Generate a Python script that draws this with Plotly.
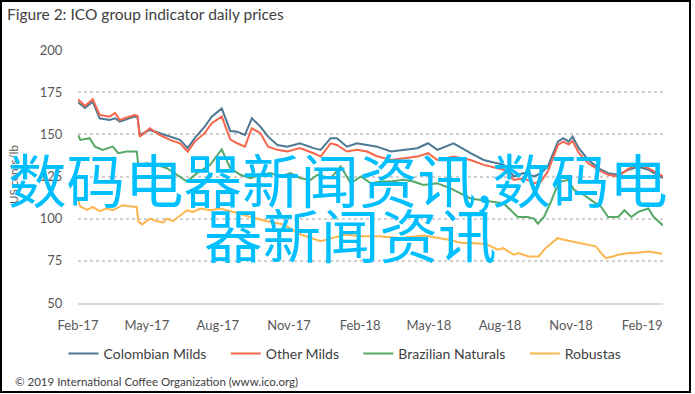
import plotly.graph_objects as go

# ---- data ----
milds_dates = ["2017-02-01","2017-02-10","2017-02-20","2017-03-01","2017-03-14","2017-03-21","2017-03-27",
    "2017-04-15","2017-04-19","2017-04-22","2017-05-05","2017-05-18","2017-05-31","2017-06-13","2017-06-23",
    "2017-07-02","2017-07-15","2017-07-24","2017-08-06","2017-08-17","2017-08-26","2017-09-05","2017-09-14",
    "2017-09-25","2017-10-05","2017-10-17","2017-10-30","2017-11-15","2017-12-03","2017-12-12","2017-12-25",
    "2018-01-02","2018-01-15","2018-01-28","2018-02-10","2018-02-23","2018-03-13","2018-03-30","2018-04-16",
    "2018-04-30","2018-05-12","2018-06-02","2018-06-24","2018-07-11","2018-08-06","2018-08-19","2018-09-01",
    "2018-09-14","2018-09-23","2018-10-02","2018-10-09","2018-10-15","2018-10-22","2018-10-29","2018-11-03",
    "2018-11-11","2018-11-23","2018-12-06","2018-12-19","2019-01-01","2019-01-14","2019-01-27","2019-02-09",
    "2019-02-16","2019-02-28"]
colombian = [169.0,165.6,169.4,159.5,158.5,159.5,157.5,160.5,160.0,149.6,152.6,150.7,148.6,146.7,141.8,
    147.7,154.6,160.5,165.4,152.0,151.6,149.6,159.5,154.6,148.6,143.7,142.7,144.7,141.8,140.8,147.7,
    147.7,142.7,144.7,143.7,142.7,139.8,140.8,141.8,144.7,140.8,144.7,138.8,134.8,131.9,125.0,127.0,
    125.0,127.0,131.0,138.8,145.7,147.7,145.7,148.6,141.8,135.0,130.0,127.0,126.0,129.0,130.8,129.0,
    127.0,124.0]
other_milds = [170.8,166.8,170.8,161.5,160.5,162.7,158.5,161.5,161.0,148.6,153.6,149.6,146.7,144.7,139.8,
    145.7,150.7,156.6,160.5,147.0,144.7,142.7,153.6,150.7,142.7,140.8,139.8,141.8,138.8,136.8,144.7,
    143.7,139.8,140.8,139.8,137.0,134.8,135.8,136.8,138.8,134.8,136.8,134.8,131.9,129.0,123.0,124.0,
    121.0,122.0,128.0,136.8,143.7,145.7,144.0,146.0,139.0,133.0,129.0,126.0,125.0,129.5,132.0,130.0,
    128.0,125.0]

brazil_dates = ["2017-02-01","2017-02-04","2017-02-16","2017-02-23","2017-03-05","2017-03-18","2017-03-25",
    "2017-04-05","2017-04-18","2017-04-20","2017-05-01","2017-05-14","2017-05-27","2017-06-09","2017-06-22",
    "2017-07-05","2017-07-22","2017-08-06","2017-08-17","2017-08-30","2017-09-12","2017-09-25","2017-10-08",
    "2017-10-21","2017-11-03","2017-11-16","2017-11-29","2017-12-08","2017-12-25","2018-01-07","2018-01-20",
    "2018-02-02","2018-02-15","2018-02-28","2018-03-13","2018-03-29","2018-04-11","2018-04-24","2018-05-12",
    "2018-05-29","2018-06-11","2018-06-24","2018-07-07","2018-07-20","2018-08-06","2018-08-15","2018-08-24",
    "2018-09-06","2018-09-14","2018-09-19","2018-09-27","2018-10-06","2018-10-12","2018-10-19","2018-10-28",
    "2018-11-05","2018-11-18","2018-11-27","2018-12-10","2018-12-19","2019-01-01","2019-01-09","2019-01-18",
    "2019-01-27","2019-02-09","2019-02-16","2019-02-25","2019-02-28"]
brazilian = [149.6,146.7,147.7,142.7,140.8,142.7,138.8,139.8,139.8,131.9,132.9,131.9,129.9,125.9,122.0,
    127.0,131.9,141.0,130.0,126.0,124.0,126.0,127.0,125.0,127.0,124.0,123.0,126.0,124.0,131.0,121.0,
    125.0,121.0,122.0,122.0,123.0,122.0,120.0,121.0,118.0,115.0,112.0,111.0,110.0,109.0,105.0,101.0,
    101.0,100.0,97.0,101.0,110.0,117.0,122.0,123.0,117.0,114.0,111.0,107.0,101.0,101.0,105.0,101.0,
    104.0,106.0,101.0,97.0,96.0]

robusta_dates = ["2017-02-01","2017-02-04","2017-02-13","2017-02-20","2017-03-01","2017-03-10","2017-03-18",
    "2017-03-31","2017-04-13","2017-04-18","2017-04-20","2017-04-25","2017-05-05","2017-05-14","2017-05-22",
    "2017-05-27","2017-06-04","2017-06-13","2017-06-22","2017-06-30","2017-07-09","2017-07-22","2017-08-04",
    "2017-08-21","2017-09-12","2017-10-04","2017-10-25","2017-11-16","2017-12-12","2017-12-28","2018-01-13",
    "2018-02-01","2018-02-25","2018-03-26","2018-04-24","2018-05-25","2018-06-14","2018-06-24","2018-07-14",
    "2018-07-29","2018-08-05","2018-08-19","2018-08-25","2018-09-07","2018-09-20","2018-09-29","2018-10-15",
    "2018-10-21","2018-11-01","2018-11-11","2018-11-23","2018-12-03","2018-12-10","2018-12-16","2018-12-25",
    "2019-01-01","2019-01-15","2019-01-22","2019-02-09","2019-02-27"]
robustas = [111.0,107.2,105.2,107.0,104.5,106.0,105.0,108.0,107.0,107.0,98.5,96.5,100.0,98.5,97.8,
    100.0,98.5,102.0,105.0,104.0,106.0,105.0,106.0,104.0,101.0,98.5,96.5,90.6,86.6,88.6,90.6,
    89.6,89.6,88.6,90.0,87.6,85.5,85.5,85.0,81.6,82.5,78.6,79.6,77.6,77.6,82.5,88.6,
    87.6,86.6,85.5,84.6,83.6,79.6,76.6,77.6,78.6,79.6,79.6,80.5,79.2]

series_names = ["Colombian Milds", "Other Milds", "Brazilian Naturals", "Robustas"]
series_colors = ["#4c7893", "#f8654b", "#55a865", "#fdb64e"]

y_ticks = [50, 75, 100, 125, 150, 175, 200]
x_ticks = ["2017-02-01","2017-05-01","2017-08-01","2017-11-01","2018-02-01","2018-05-01",
           "2018-08-01","2018-11-01","2019-02-01"]
x_ticklabels = ["Feb-17","May-17","Aug-17","Nov-17","Feb-18","May-18","Aug-18","Nov-18","Feb-19"]

title_text = "Figure 2: ICO group indicator daily prices"
y_title = "US cents/lb"
footer_text = "© 2019 International Coffee Organization (www.ico.org)"
watermark_1 = "数码电器新闻资讯,数码电"
watermark_2 = "器新闻资讯"

# ---- figure ----
W, H = 695, 394
L, R, T, B = 78, 32, 50, 91
pw, ph = W - L - R, H - T - B

def px_x(x):
    return (x - L) / pw

def px_y(y):
    return (H - B - y) / ph

fig = go.Figure()
xs = [milds_dates, milds_dates, brazil_dates, robusta_dates]
ys = [colombian, other_milds, brazilian, robustas]
pad = "\u00a0" * 4
for i, (name, color, xv, yv) in enumerate(zip(series_names, series_colors, xs, ys)):
    label = name + (pad if i < len(series_names) - 1 else "")
    fig.add_trace(go.Scatter(x=xv, y=yv, mode="lines", name=label,
                             line=dict(color=color, width=2)))

font_main = "Lato, Carlito, 'Liberation Sans', sans-serif"

fig.update_layout(
    width=W, height=H,
    margin=dict(l=L, r=R, t=T, b=B, autoexpand=False),
    paper_bgcolor="white", plot_bgcolor="white",
    showlegend=True,
    legend=dict(orientation="h", xref="container", yref="container",
                x=345 / W, xanchor="center", y=(H - 354) / H, yanchor="middle",
                font=dict(family=font_main, size=14, color="#404040"),
                itemwidth=30, tracegroupgap=0),
    font=dict(family=font_main),
)

fig.update_xaxes(type="date", range=["2017-02-01", "2019-02-28"],
                 tickvals=x_ticks, ticktext=x_ticklabels, automargin=False,
                 showgrid=False, zeroline=False,
                 showline=True, linecolor="#d9d9d9", linewidth=2,
                 ticks="outside", ticklen=9, tickcolor="rgba(0,0,0,0)",
                 tickfont=dict(family=font_main, size=13, color="#595959"))
fig.update_yaxes(range=[50, 200], tickvals=y_ticks, automargin=False,
                 showgrid=True, gridcolor="#d0d0d0", gridwidth=1.5, griddash="dot",
                 zeroline=False, showline=False,
                 ticks="outside", ticklen=12, tickcolor="rgba(0,0,0,0)",
                 tickfont=dict(family=font_main, size=13, color="#595959"))

# outer frame
fig.add_shape(type="rect", xref="paper", yref="paper",
              x0=px_x(1), x1=px_x(690), y0=px_y(392), y1=px_y(1),
              line=dict(color="black", width=2), fillcolor="rgba(0,0,0,0)", layer="above")

# title
fig.add_annotation(text=title_text, xref="paper", yref="paper",
                   x=px_x(5), xanchor="left", y=px_y(14), yanchor="middle",
                   showarrow=False, font=dict(family=font_main, size=15.5, color="#404040"))

# y-axis title
fig.add_annotation(text=y_title, xref="paper", yref="paper", textangle=-90,
                   x=px_x(13), xanchor="center", y=px_y(175), yanchor="middle",
                   showarrow=False, font=dict(family=font_main, size=11.5, color="#595959"))

# footer
fig.add_annotation(text=footer_text, xref="paper", yref="paper",
                   x=px_x(13), xanchor="left", y=px_y(381), yanchor="middle",
                   showarrow=False, font=dict(family=font_main, size=11.5, color="#404040"))

# watermark
wm_font = dict(family="'Noto Sans CJK SC', sans-serif", size=58.5, color="#00bfff")
fig.add_annotation(text=watermark_1, xref="paper", yref="paper",
                   x=px_x(338), xanchor="center", y=px_y(177), yanchor="middle",
                   showarrow=False, font=wm_font)
fig.add_annotation(text=watermark_2, xref="paper", yref="paper",
                   x=px_x(350), xanchor="center", y=px_y(232), yanchor="middle",
                   showarrow=False, font=wm_font)

fig.write_html("out.html", config={"displayModeBar": False},
               post_script="document.body.style.margin='0';")
